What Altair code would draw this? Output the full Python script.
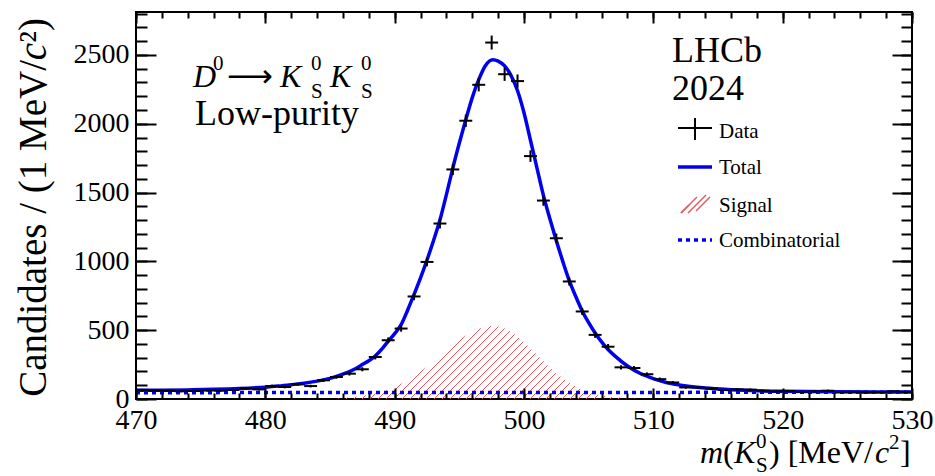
import altair as alt
import pandas as pd

# ---------------- data ----------------
BIN_LO = 470.0
BIN_W = 1.0
COUNTS = [66, 62, 60, 56, 58, 62, 60, 66, 78, 70,
          94, 87, 107, 94, 136, 160, 184, 216, 305, 427,
          512, 745, 996, 1275, 1668, 2022, 2283, 2590, 2360, 2310,
          1765, 1442, 1168, 854, 636, 466, 380, 230, 225, 180,
          144, 120, 84, 83, 76, 66, 70, 68, 60, 56,
          58, 52, 55, 60, 50, 52, 48, 50, 55, 52]

TOTAL_M = [470, 472, 474, 476, 478, 480, 481, 482, 483, 484, 485, 486,
           487, 487.5, 488, 488.5, 489, 489.5, 490, 490.5, 491, 491.5, 492, 492.5,
           493, 493.5, 494, 494.5, 495, 495.5, 496, 496.5, 497, 497.6,
           498, 498.5, 499, 499.5, 500, 500.5, 501, 501.5, 502, 502.5, 503, 503.5,
           504, 504.5, 505, 505.5, 506, 506.5, 507, 508, 509, 510, 511, 512,
           514, 516, 518, 520, 524, 530]
TOTAL_N = [63, 64, 66, 70, 76, 86, 94, 104, 115, 130, 150, 180,
           222, 250, 278, 312, 362, 420, 475, 540, 645, 760, 880, 1010,
           1150, 1300, 1485, 1680, 1860, 2030, 2190, 2320, 2420, 2465,
           2455, 2420, 2350, 2240, 2080, 1880, 1680, 1480, 1310, 1150, 1000, 860,
           745, 640, 555, 480, 415, 360, 315, 240, 185, 148, 120, 102,
           80, 68, 60, 56, 52, 50]

SIG_M = [485, 486, 487, 488, 489, 490, 491, 492, 493, 494, 495, 496, 497, 497.6,
         498, 499, 500, 501, 502, 503, 504, 505, 506, 507, 508, 509]
SIG_N = [0, 8, 16, 30, 52, 87, 136, 199, 273, 353, 429, 489, 524, 530,
         526, 487, 413, 321, 229, 150, 90, 49, 25, 12, 5, 0]

COMB_M = [470, 530]
COMB_N = [46, 49]

X_MAJOR = [470, 480, 490, 500, 510, 520, 530]
X_MINOR = list(range(470, 531, 2))
Y_MAJOR = [0, 500, 1000, 1500, 2000, 2500]
Y_MINOR = list(range(0, 2801, 100))

LEGEND_LABELS = ["Data", "Total", "Signal", "Combinatorial"]

# ---------------- style ----------------
SERIF = "Liberation Serif"
BLUE = "#0000ee"
HATCH = "#e4575d"
W, H = 776, 387
X_DOM = [470, 530]
Y_DOM = [0, 2812]

xs = alt.Scale(domain=X_DOM, nice=False, zero=False)
ys = alt.Scale(domain=Y_DOM, nice=False, zero=False)


def axis(orient, values, size, labels=False):
    kw = dict(orient=orient, values=values, tickSize=size, offset=-size,
              domain=False, grid=False, labels=labels, title=None,
              tickColor="black", tickWidth=2, zindex=1)
    if labels:
        kw.update(labelFont=SERIF, labelFontSize=28, labelColor="black",
                  labelPadding=7, format="d", labelFlush=False,
                  labelOverlap=False)
    return alt.Axis(**kw)


def hatch(w_px, h_px, period=8.0, line=1.4):
    k = (w_px + h_px) / (w_px ** 2 + h_px ** 2)
    total = w_px + h_px
    clear = "rgba(255,255,255,0)"
    stops = []
    i = 0
    while i * period < total:
        a = i * period / total
        b = min((i * period + line) / total, 1.0)
        c = min((i + 1) * period / total, 1.0)
        stops += [alt.GradientStop(offset=a, color=HATCH),
                  alt.GradientStop(offset=b, color=HATCH),
                  alt.GradientStop(offset=b, color=clear),
                  alt.GradientStop(offset=c, color=clear)]
        i += 1
    return alt.LinearGradient(gradient="linear", stops=stops,
                              x1=0, y1=0, x2=w_px * k, y2=h_px * k)


data_df = pd.DataFrame({"m": [BIN_LO + BIN_W * (i + 0.5) for i in range(len(COUNTS))],
                        "n": COUNTS})
total_df = pd.DataFrame({"m": TOTAL_M, "n": TOTAL_N})
sig_df = pd.DataFrame({"m": SIG_M, "n": SIG_N})
comb_df = pd.DataFrame({"m": COMB_M, "n": COMB_N})
one = alt.Data(values=[{"k": 1}])

sig_w = (max(SIG_M) - min(SIG_M)) / (X_DOM[1] - X_DOM[0]) * W
sig_h = max(SIG_N) / (Y_DOM[1] - Y_DOM[0]) * H

signal = alt.Chart(sig_df).mark_area(interpolate="monotone", fill=hatch(sig_w, sig_h)).encode(
    x=alt.X("m:Q", scale=xs, axis=axis("top", X_MINOR, 6)),
    y=alt.Y("n:Q", scale=ys, axis=axis("right", Y_MINOR, 11)),
)

comb = alt.Chart(comb_df).mark_line(color=BLUE, strokeWidth=3.5, strokeDash=[4, 4]).encode(
    x=alt.X("m:Q", scale=xs, axis=None),
    y=alt.Y("n:Q", scale=ys, axis=None),
)

total = alt.Chart(total_df).mark_line(color=BLUE, strokeWidth=3.5, interpolate="monotone").encode(
    x=alt.X("m:Q", scale=xs, axis=axis("top", X_MAJOR, 11)),
    y=alt.Y("n:Q", scale=ys, axis=axis("right", Y_MAJOR, 20)),
)

vbar = alt.Chart(data_df).transform_calculate(
    lo="datum.n - sqrt(datum.n)", hi="datum.n + sqrt(datum.n)"
).mark_rule(color="black", strokeWidth=2).encode(
    x=alt.X("m:Q", scale=xs, axis=axis("bottom", X_MINOR, 6)),
    y=alt.Y("lo:Q", scale=ys, axis=axis("left", Y_MINOR, 11)),
    y2="hi:Q",
)

hbar = alt.Chart(data_df).transform_calculate(
    a="datum.m - 0.5", b="datum.m + 0.5"
).mark_rule(color="black", strokeWidth=2).encode(
    x=alt.X("a:Q", scale=xs, axis=axis("bottom", X_MAJOR, 11, labels=True)),
    x2="b:Q",
    y=alt.Y("n:Q", scale=ys, axis=axis("left", Y_MAJOR, 20, labels=True)),
)


def txt(s, x, y, size, italic=False, align="left", angle=0, font=SERIF):
    kw = dict(text=s, font=font, fontSize=size, align=align,
              baseline="alphabetic", color="black")
    if italic:
        kw["fontStyle"] = "italic"
    if angle:
        kw["angle"] = angle
    return alt.Chart(one).mark_text(**kw).encode(x=alt.value(x), y=alt.value(y))


def seg(x1, x2, y1, y2, color="black", width=2, dash=None):
    kw = dict(color=color, strokeWidth=width)
    if dash:
        kw["strokeDash"] = dash
    return alt.Chart(one).mark_rule(**kw).encode(
        x=alt.value(x1), x2=alt.value(x2), y=alt.value(y1), y2=alt.value(y2))


texts = [
    # decay label
    txt("D", 57, 75, 32, italic=True),
    txt("0", 77, 58, 21),
    txt("\u27f6", 91, 75, 32, font="DejaVu Sans"),
    txt("K", 144, 75, 32, italic=True),
    txt("0", 175, 58, 21),
    txt("S", 175, 86, 21),
    txt("K", 194, 75, 32, italic=True),
    txt("0", 225, 58, 21),
    txt("S", 225, 86, 21),
    txt("Low-purity", 59, 113, 36),
    txt("LHCb", 536, 50, 36),
    txt("2024", 536, 88, 36),
    # legend
    txt(LEGEND_LABELS[0], 583, 126, 21),
    txt(LEGEND_LABELS[1], 583, 162, 21),
    txt(LEGEND_LABELS[2], 583, 200, 21),
    txt(LEGEND_LABELS[3], 583, 235, 21),
    # x title  m(K0S) [MeV/c2]
    txt("m", 564, 451, 32, italic=True),
    txt("(", 587, 451, 32),
    txt("K", 598, 451, 32, italic=True),
    txt("0", 620, 436, 21),
    txt("S", 620, 460, 21),
    txt(") [MeV/", 633, 451, 32),
    txt("c", 739, 451, 32, italic=True),
    txt("2", 753, 437, 21),
    txt("]", 764, 451, 32),
    # y title
    txt("\u00b2)", -90, 6, 39, align="right", angle=270),
    txt("c", -90, 31, 39, italic=True, align="right", angle=270),
    txt("Candidates / (1 MeV/", -90, 48, 39, align="right", angle=270),
]

legend = [
    seg(542, 576, 116, 116),
    alt.Chart(one).mark_rule(color="black", strokeWidth=2).encode(
        x=alt.value(559), y=alt.value(106), y2=alt.value(128)),
    seg(542, 576, 155, 155, color=BLUE, width=3.5),
    seg(545, 553, 201, 193, color=HATCH, width=1.4),
    seg(545, 561, 201, 185, color=HATCH, width=1.4),
    seg(552, 570, 201, 183, color=HATCH, width=1.4),
    seg(560, 574, 199, 185, color=HATCH, width=1.4),
    seg(542, 576, 228, 228, color=BLUE, width=3.5, dash=[4, 4]),
]

chart = alt.layer(signal, comb, total, vbar, hbar, *legend, *texts).properties(
    width=W, height=H,
    padding={"left": 136, "top": 12, "right": 23, "bottom": 77},
    autosize=alt.AutoSizeParams(type="none"),
    background="white",
).resolve_axis(x="independent", y="independent").configure_view(
    stroke="black", strokeWidth=2
)

chart.save("out.html", embed_options={"renderer": "svg", "actions": False})
